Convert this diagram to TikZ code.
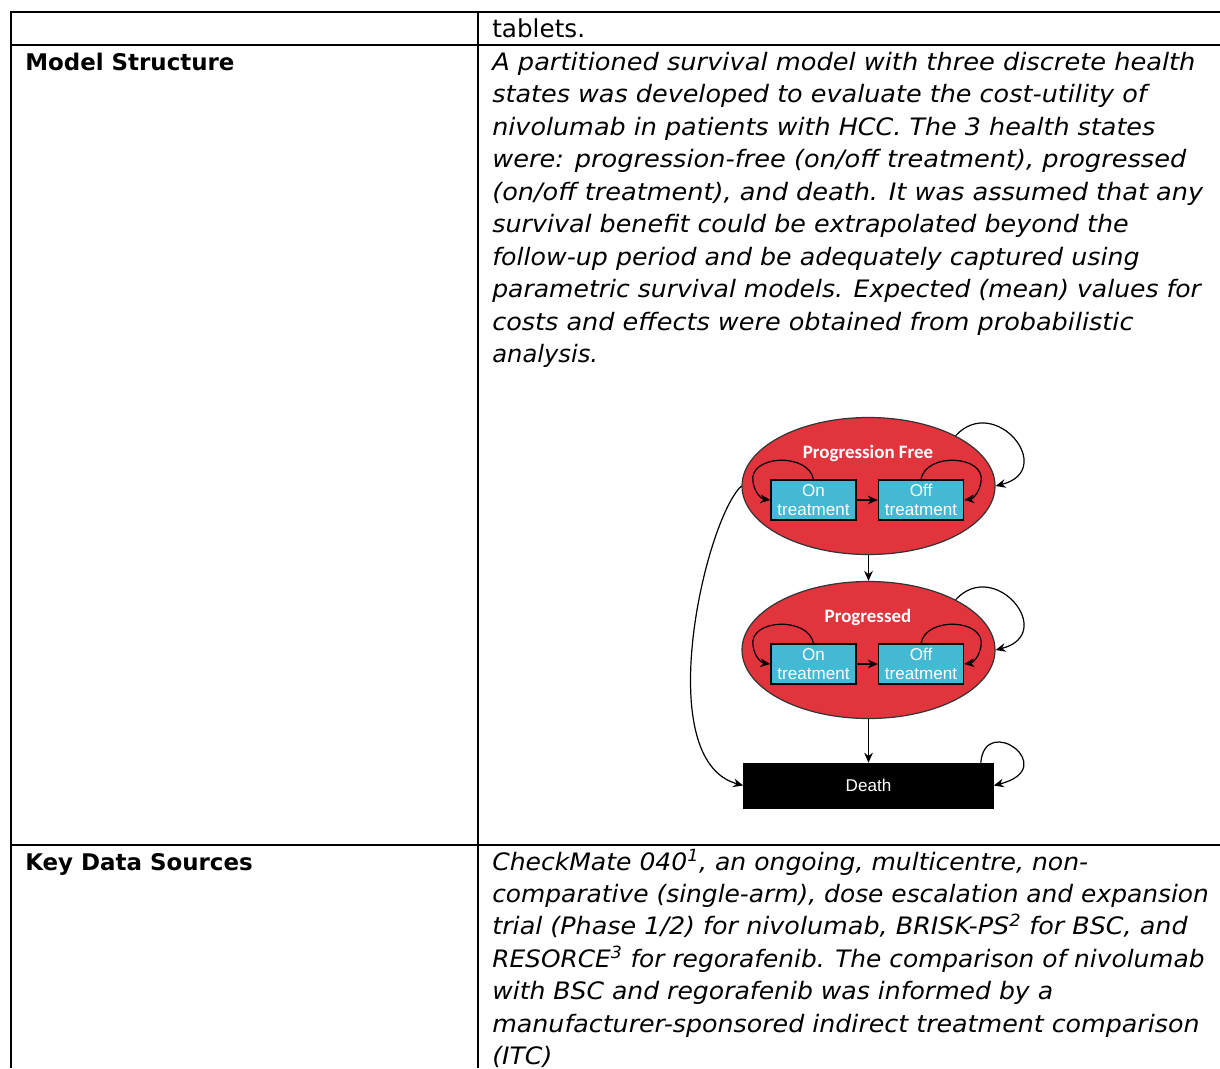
\documentclass[tikz,border=0pt]{standalone}
\usepackage{fontspec}
\setmainfont{DejaVu Sans}
\newfontfamily\diagf{Liberation Sans}
\newfontfamily\titf{Carlito}
\usetikzlibrary{shapes.geometric,arrows.meta}
\definecolor{stred}{HTML}{E2343D}
\definecolor{stcyan}{HTML}{43B9D4}
\begin{document}
\begin{tikzpicture}[x=0.75pt,y=-0.75pt,
  rule/.style={line width=1.5pt,black},
  uline/.style={anchor=base west,inner sep=0pt,font=\fontsize{18.5pt}{22pt}\selectfont},
  bline/.style={anchor=base west,inner sep=0pt,font=\bfseries\fontsize{17.2pt}{20pt}\selectfont},
  iline/.style={anchor=base west,inner sep=0pt,xscale=#1,font=\itshape\fontsize{18pt}{21pt}\selectfont},
  iline/.default=1.05,
  state/.style={ellipse,draw=black!80,line width=0.9pt,fill=stred,minimum width=189.75pt,minimum height=102.75pt,inner sep=0pt},
  sub/.style={rectangle,draw=black,line width=1.1pt,fill=stcyan,minimum width=63.75pt,minimum height=30pt,inner sep=0pt,
    text=white,align=center,font=\diagf\fontsize{12.8pt}{14.6pt}\selectfont},
  stitle/.style={text=white,inner sep=0pt,font=\titf\bfseries\fontsize{14.2pt}{16pt}\selectfont},
  arr/.style={line width=0.9pt,-{Stealth[length=7.5pt,width=6.5pt]}}
]
\useasboundingbox (0,0) rectangle (1220,1068);
% table rules
\draw[rule] (10,12) -- (1220,12);
\draw[rule] (11,12) -- (11,1068);
\draw[rule] (478,12) -- (478,1068);
\draw[rule] (11,45) -- (1220,45);
\draw[rule] (11,844.5) -- (1220,844.5);
% table text
\node[uline] (tab) at (492,37.5) {tablets.};
\node[bline] (lab1) at (25,70) {Model Structure};
\node[bline] (lab2) at (25,870) {Key Data Sources};
\node[iline=1.069] (m1) at (492,70) {A partitioned survival model with three discrete health};
\node[iline=1.061] (m2) at (492,102.5) {states was developed to evaluate the cost-utility of};
\node[iline=1.059] (m3) at (492,135) {nivolumab in patients with HCC. The 3 health states};
\node[iline=1.068] (m4) at (492,167.5) {were: progression-free (on/off treatment), progressed};
\node[iline=1.065] (m5) at (492,200) {(on/off treatment), and death. It was assumed that any};
\node[iline=1.057] (m6) at (492,232.5) {survival benefit could be extrapolated beyond the};
\node[iline=1.053] (m7) at (492,265) {follow-up period and be adequately captured using};
\node[iline=1.044] (m8) at (492,297.5) {parametric survival models. Expected (mean) values for};
\node[iline=1.063] (m9) at (492,330) {costs and effects were obtained from probabilistic};
\node[iline=1.01] (m10) at (492,362.5) {analysis.};
\node[iline=1.044] (k1) at (492,870) {CheckMate 040\textsuperscript{1}, an ongoing, multicentre, non-};
\node[iline=1.037] (k2) at (492,902.4) {comparative (single-arm), dose escalation and expansion};
\node[iline=1.059] (k3) at (492,934.8) {trial (Phase 1/2) for nivolumab, BRISK-PS\textsuperscript{2} for BSC, and};
\node[iline=1.035] (k4) at (492,967.2) {RESORCE\textsuperscript{3} for regorafenib. The comparison of nivolumab};
\node[iline=1.045] (k5) at (492,999.6) {with BSC and regorafenib was informed by a};
\node[iline=1.054] (k6) at (492,1032) {manufacturer-sponsored indirect treatment comparison};
\node[iline=1.05] (k7) at (492,1064.4) {(ITC)};
% diagram
\node[state] (PF) at (868.5,486) {};
\node[stitle] (PFt) at (868,453) {Progression Free};
\node[sub] (PFon) at (813.5,500) {On\\treatment};
\node[sub] (PFoff) at (921,500) {Off\\treatment};
\node[state] (PR) at (868.5,650) {};
\node[stitle] (PRt) at (868,617) {Progressed};
\node[sub] (PRon) at (813.5,664) {On\\treatment};
\node[sub] (PRoff) at (921,664) {Off\\treatment};
\node[rectangle,fill=black,draw=black,minimum width=187.5pt,minimum height=33.75pt,inner sep=0pt,
  text=white,font=\diagf\fontsize{12.8pt}{14pt}\selectfont] (D) at (868.5,785.5) {Death};
% connectors
\draw[arr] (PFon.east) -- (PFoff.west);
\draw[arr] (PRon.east) -- (PRoff.west);
\draw[arr] (PF.south) -- (PR.north);
\draw[arr] (PR.south) -- (D.north);
\draw[arr] (PFon.north) .. controls (808,452) and (748,455) .. (753,482) .. controls (755,494) and (762,499) .. (PFon.west);
\draw[arr] (PFoff.north) .. controls (926,452) and (986,455) .. (981,482) .. controls (979,494) and (972,499) .. (PFoff.east);
\draw[arr] (PRon.north) .. controls (808,616) and (748,619) .. (753,646) .. controls (755,658) and (762,663) .. (PRon.west);
\draw[arr] (PRoff.north) .. controls (926,616) and (986,619) .. (981,646) .. controls (979,658) and (972,663) .. (PRoff.east);
\draw[arr] (PF.30) .. controls (995,393) and (1058,470) .. (PF.east);
\draw[arr] (PR.30) .. controls (995,557) and (1058,634) .. (PR.east);
\draw[arr] ([xshift=-9.75pt]D.north east) .. controls (985,712) and (1062,768) .. (D.east);
\draw[arr] (PF.west) .. controls (705,520) and (650,760) .. (D.west);
\end{tikzpicture}
\end{document}
